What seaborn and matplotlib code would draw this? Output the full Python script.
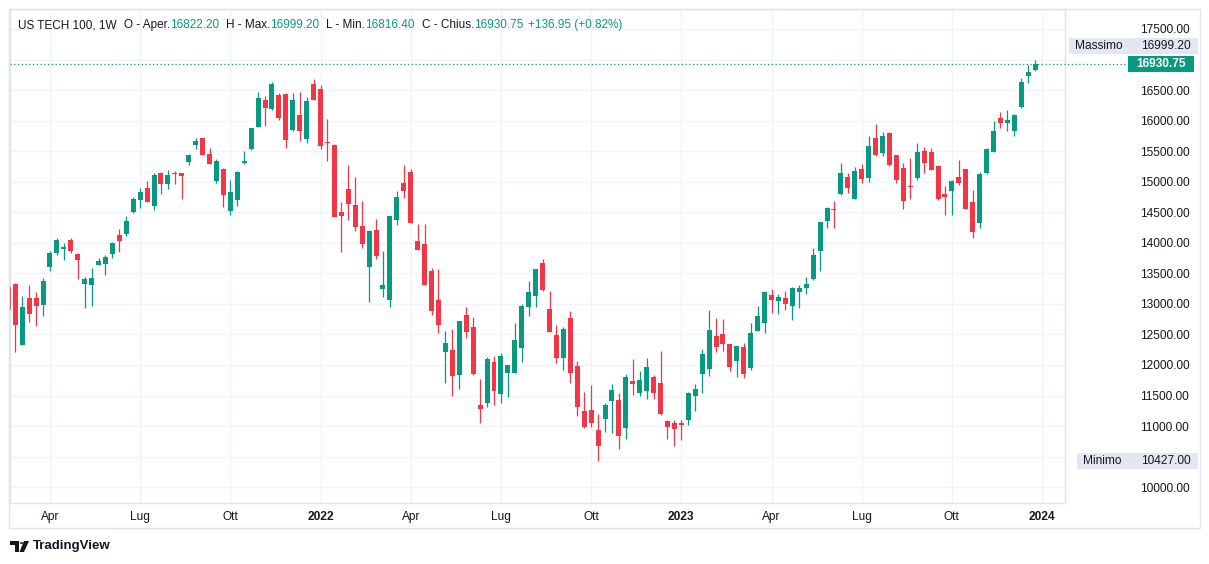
import numpy as np
import pandas as pd
import matplotlib
matplotlib.use("Agg")
import matplotlib.pyplot as plt
import matplotlib.transforms as mtransforms
from matplotlib.patches import Rectangle, Polygon, Circle
import seaborn as sns

# weekly candles, US TECH 100 (first one is cut by the left edge)
opens = [13270, 13325, 12332, 13091, 13091, 12987, 13609, 13838, 13904, 14040, 13822,
         13331, 13314, 13636, 13658, 13822, 14128, 14150, 14504, 14706, 14897,
         14608, 15137, 14963, 15137, 15137, 15328, 15596, 15716, 15454, 15017,
         15208, 14515, 14706, 15312, 15541, 15901, 16338, 16196, 16420, 16436,
         15852, 16092, 15705, 16600, 16518, 15656, 15601, 14504, 14881, 14619,
         14275, 13609, 14204, 13244, 13063, 14373, 14979, 15159, 14029, 13980,
         13544, 13063, 12218, 12245, 11836, 12823, 12627, 11344, 11383, 12049,
         11525, 11874, 11874, 12283, 12943, 13134, 13664, 12911, 12485, 12120,
         12763, 11983, 11247, 11263, 10936, 11121, 11416, 11427, 10974, 11738,
         11547, 11580, 11803, 11705, 11083, 11050, 11050, 11099, 11498, 11853,
         11940, 12475, 12507, 12344, 12071, 12295, 11956, 12562, 12693, 13145,
         13047, 13091, 12970, 13194, 13265, 13407, 13871, 14362, 14548, 14799,
         15071, 14722, 15208, 15066, 15715, 15475, 15797, 15437, 15224, 14930,
         15066, 15503, 15486, 15257, 14799, 14853, 15077, 15208, 14667, 14329,
         15148, 15492, 16043, 15961, 15835, 16228, 16736, 16822.20]
highs = [13300, 13347, 13129, 13303, 13194, 13418, 13860, 14078, 13991, 14073, 13827,
         13434, 13582, 13756, 13800, 14018, 14226, 14439, 14750, 14897, 15012,
         15148, 15159, 15192, 15175, 15142, 15448, 15710, 15720, 15552, 15372,
         15225, 15028, 15176, 15503, 15885, 16469, 16403, 16627, 16452, 16447,
         16452, 16469, 16387, 16682, 16583, 16027, 15617, 14668, 15274, 15077,
         14684, 14204, 14390, 13866, 14444, 14848, 15273, 15203, 14308, 14308,
         13587, 13571, 12556, 12583, 12720, 12954, 12790, 11775, 12125, 12147,
         12190, 12000, 12687, 12998, 13374, 13571, 13735, 13211, 12654, 12621,
         12883, 12065, 11558, 11672, 11198, 11383, 11689, 11536, 11852, 12098,
         11896, 12114, 11831, 12229, 11099, 11099, 11099, 11563, 11683, 12262,
         12900, 12769, 12753, 12350, 12311, 12355, 12693, 12966, 13210, 13243,
         13167, 13211, 13271, 13314, 13440, 13920, 14340, 14591, 14684, 15312,
         15148, 15241, 15295, 15754, 15945, 15814, 15808, 15440, 15301, 15388,
         15633, 15568, 15552, 15273, 14930, 15028, 15355, 15208, 14864, 15164,
         15557, 15994, 16141, 16174, 16103, 16692, 16910, 16999.20]
lows = [12880, 12218, 12330, 12709, 12643, 12801, 13544, 13805, 13724, 13838, 13407,
        12938, 12971, 13630, 13478, 13746, 13855, 14106, 14493, 14575, 14670,
        14542, 14799, 14886, 14968, 14722, 15279, 15541, 15443, 15295, 14974,
        14581, 14450, 14608, 15295, 15525, 15890, 15918, 16169, 16005, 15557,
        15836, 15672, 15639, 16343, 15541, 15345, 14428, 13849, 14373, 14193,
        13910, 13036, 13735, 13113, 12954, 14291, 14739, 14329, 13882, 13309,
        12818, 12523, 11699, 11492, 11601, 12447, 11836, 11055, 11306, 11339,
        11372, 11470, 11870, 12054, 12807, 12954, 13216, 12545, 12027, 11917,
        11710, 11165, 10974, 10990, 10427, 10908, 10892, 10619, 10783, 11514,
        11492, 11449, 11438, 11187, 10794, 10674, 10772, 11018, 11247, 11547,
        11820, 12218, 12229, 11907, 11809, 11793, 11924, 12555, 12529, 12856,
        12834, 12900, 12736, 12938, 13162, 13391, 13543, 14236, 14247, 14782,
        14810, 14720, 14984, 15000, 15426, 15426, 15262, 14984, 14553, 14717,
        15028, 15148, 15191, 14700, 14455, 14455, 14951, 14558, 14073, 14247,
        15126, 15490, 15874, 15835, 15753, 16201, 16610, 16816.40]
closes = [12900, 12660, 12943, 12840, 12971, 13374, 13833, 14046, 13931, 13866, 13724,
          13402, 13424, 13696, 13767, 14002, 14035, 14351, 14717, 14832, 14673,
          15115, 14968, 15104, 15121, 15099, 15437, 15672, 15443, 15295, 15345,
          14788, 14832, 15159, 15345, 15874, 16371, 16212, 16594, 16049, 15688,
          16338, 15836, 16321, 16343, 15590, 15628, 14428, 14444, 14641, 14264,
          13986, 14193, 13789, 13309, 14444, 14750, 14853, 14329, 13882, 13309,
          12883, 12660, 12365, 11825, 12720, 12545, 11852, 11273, 12098, 11579,
          12147, 12000, 12409, 12965, 13194, 13571, 13227, 12545, 12120, 12589,
          11874, 11317, 10990, 11045, 10679, 11345, 11590, 10843, 11803, 11683,
          11754, 11967, 11547, 11203, 10979, 10960, 11018, 11547, 11601, 12180,
          12573, 12300, 12349, 11973, 12311, 11853, 12524, 12802, 13189, 13069,
          13112, 12992, 13260, 13260, 13325, 13805, 14340, 14569, 14537, 15142,
          14902, 15175, 15050, 15590, 15442, 15754, 15279, 15033, 14689, 14919,
          15486, 15311, 15191, 14717, 14755, 15006, 14984, 14558, 14182, 15126,
          15535, 15830, 15966, 16010, 16086, 16632, 16801, 16930.75]
prev_close = 16793.80
price_ticks = np.arange(10000, 17501, 500)
hidden_ticks = [10500, 17000]  # covered by the Minimo / last price labels
month_names = {4: "Apr", 7: "Lug", 10: "Ott"}

W, H = 1209, 564
GREEN = "#089981"
RED = "#F23645"
TXT = "#131722"
FRAME = "#e0e3eb"
GRID = "#f0f3fa"

sns.set_theme(style="white")
plt.rcParams["font.family"] = ["Liberation Sans", "DejaVu Sans"]

dates = pd.date_range("2021-02-22", periods=len(opens) + 6, freq="W-MON")
df = pd.DataFrame({"open": opens, "high": highs, "low": lows, "close": closes},
                  index=dates[:len(opens)])
df["x"] = np.arange(len(df)) - 1
df["up"] = df["close"] >= df["open"]

fig = plt.figure(figsize=(W / 100, H / 100), dpi=100)
ax = fig.add_axes([10 / W, 1 - 503 / H, 1055 / W, 494 / H])
ax.set_xlim(-0.76, 151.3)
ax.set_ylim(9741, 17827)
upp = (17827 - 9741) / 494.0  # price units per pixel

cols = np.where(df["up"], GREEN, RED)
ax.vlines(df["x"], df["low"], df["high"], colors=cols, linewidth=0.9, zorder=2)
body_lo = df[["open", "close"]].min(axis=1)
body_h = np.maximum((df["close"] - df["open"]).abs(), upp)
ax.bar(df["x"], body_h, bottom=body_lo, width=0.72, color=cols, linewidth=0, zorder=3)

# time axis
tick_pos, tick_lab = [], []
for i, d in enumerate(dates):
    prev = dates[i - 1] if i > 0 else None
    if prev is not None and d.month != prev.month and d.month in (1, 4, 7, 10):
        tick_pos.append(i - 1)
        tick_lab.append(str(d.year) if d.month == 1 else month_names[d.month])
ax.set_xticks(tick_pos)
ax.set_xticklabels(tick_lab)
for lab in ax.get_xticklabels():
    if lab.get_text().isdigit():
        lab.set_fontweight("bold")
ax.tick_params(axis="x", length=0, pad=6, labelsize=8.6, labelcolor=TXT)

ax.yaxis.tick_right()
ax.set_yticks(price_ticks)
ax.set_yticklabels(["" if v in hidden_ticks else f"{v:.2f}" for v in price_ticks])
ax.tick_params(axis="y", length=0, pad=54, labelsize=8.6, labelcolor=TXT)
ax.grid(True, color=GRID, linewidth=1)
for s in ax.spines.values():
    s.set_color(FRAME)
    s.set_linewidth(1)

# last price line and scale labels
last = df["close"].iloc[-1]
ax.axhline(last, xmin=0, xmax=(1128 - 10) / 1055, color=GREEN, linestyle=(0, (1, 2)),
           linewidth=0.9, zorder=4, clip_on=False)
bt = mtransforms.blended_transform_factory(ax.transAxes, ax.transData)
fx = lambda px: (px - 10) / 1055.0

hi = df["high"].max()
lo = df["low"].min()
massimo_y = hi + 13.5 * upp
ax.add_patch(Rectangle((fx(1069), massimo_y - 8 * upp), fx(1198) - fx(1069), 16 * upp,
                       transform=bt, clip_on=False, facecolor="#e3e7f1", edgecolor="none", zorder=5))
ax.text(fx(1075), massimo_y, "Massimo", transform=bt, fontsize=8.6, color=TXT,
        va="center", ha="left", zorder=6)
ax.text(fx(1141), massimo_y, f"{hi:.2f}", transform=bt, fontsize=8.6, color=TXT,
        va="center", ha="left", zorder=6)

ax.add_patch(Rectangle((fx(1077), lo - 8 * upp), fx(1198) - fx(1077), 16 * upp,
                       transform=bt, clip_on=False, facecolor="#e3e7f1", edgecolor="none", zorder=5))
ax.text(fx(1083), lo, "Minimo", transform=bt, fontsize=8.6, color=TXT,
        va="center", ha="left", zorder=6)
ax.text(fx(1141), lo, f"{lo:.2f}", transform=bt, fontsize=8.6, color=TXT,
        va="center", ha="left", zorder=6)

ax.add_patch(Rectangle((fx(1128), last - 8 * upp), fx(1194) - fx(1128), 16 * upp,
                       transform=bt, clip_on=False, facecolor=GREEN, edgecolor="none", zorder=5))
ax.text(fx(1161), last, f"{last:.2f}", transform=bt, fontsize=8.6, color="white",
        fontweight="bold", va="center", ha="center", zorder=6)

# outer frame
fig.patches.append(Rectangle((9 / W, 1 - 528 / H), 1191 / W, 519 / H, transform=fig.transFigure,
                             fill=False, edgecolor=FRAME, linewidth=1))

# header line
o, h, l, c = df.iloc[-1][["open", "high", "low", "close"]]
chg = c - prev_close
pieces = [("US TECH 100, 1W", TXT, 7), ("O - Aper.", TXT, 0), (f"{o:.2f}", GREEN, 7),
          ("H - Max.", TXT, 0), (f"{h:.2f}", GREEN, 7), ("L - Min.", TXT, 0),
          (f"{l:.2f}", GREEN, 7), ("C - Chius.", TXT, 0), (f"{c:.2f}", GREEN, 5),
          (f"{chg:+.2f} ({chg / prev_close * 100:+.2f}%)", GREEN, 0)]
renderer = fig.canvas.get_renderer()
xpos = 18
for txt, col, gap in pieces:
    t = fig.text(xpos / W, 1 - 25 / H, txt, color=col, fontsize=8.5, va="center", ha="left")
    xpos += t.get_window_extent(renderer).width + gap

# TradingView logo
def fp(x, y):
    return (x / W, 1 - y / H)

fig.patches.append(Polygon([fp(10, 541), fp(19, 541), fp(19, 552), fp(15, 552), fp(15, 545), fp(10, 545)],
                           closed=True, transform=fig.transFigure, facecolor=TXT, edgecolor="none"))
fig.patches.append(Circle(fp(21.5, 543), 1.8 / W, transform=fig.transFigure, facecolor=TXT, edgecolor="none"))
fig.patches.append(Polygon([fp(24, 541), fp(29, 541), fp(24, 552), fp(19.5, 552)],
                           closed=True, transform=fig.transFigure, facecolor=TXT, edgecolor="none"))
fig.text(33 / W, 1 - 546 / H, "TradingView", fontsize=9.5, color=TXT, fontweight="semibold",
         va="center", ha="left")

fig.savefig("out.png", dpi=100, facecolor="white")
